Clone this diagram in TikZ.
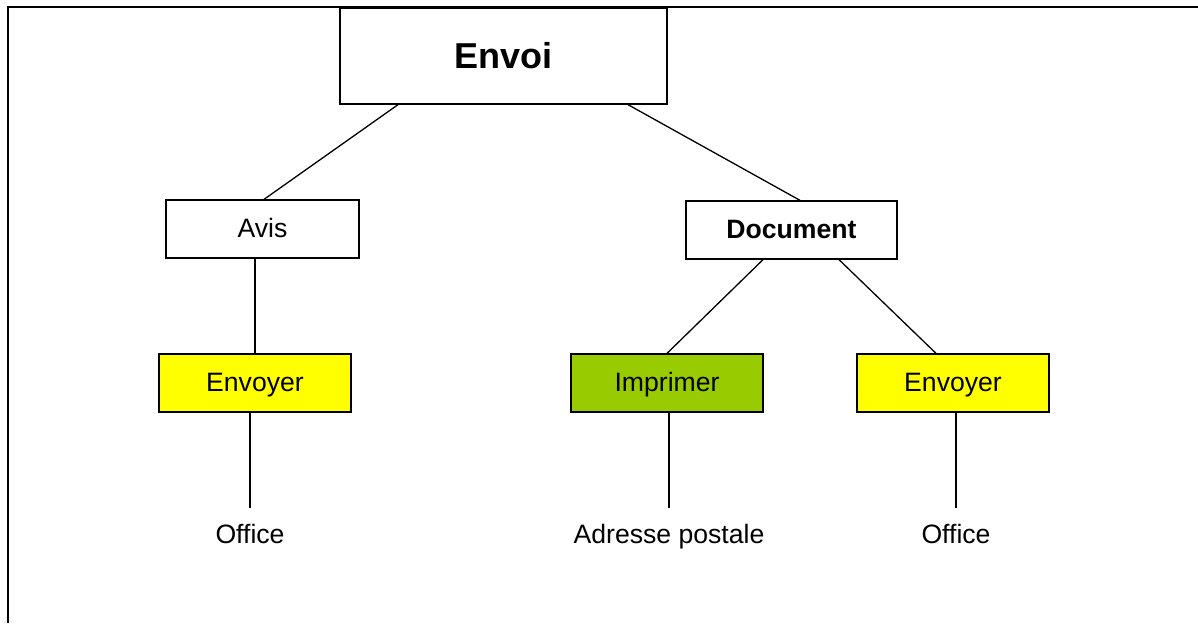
\documentclass[tikz,border=0pt]{standalone}
\usepackage{fontspec}
\setmainfont{Liberation Sans}
\usetikzlibrary{positioning}

\begin{document}
\begin{tikzpicture}[x=0.5pt,y=-0.5pt,
	box/.style={draw,line width=0.65pt,rectangle,inner sep=0pt,minimum height=29pt,text height=10.4pt,text depth=2pt,font=\fontsize{13.3}{16}\selectfont},
	leaf/.style={inner sep=0pt,minimum height=26pt,text height=11.1pt,text depth=1.3pt,font=\fontsize{13.3}{16}\selectfont}]
					\definecolor{lightyellow}{HTML}{FFFF00}
					\definecolor{lightgreen}{HTML}{99CC00}
					\useasboundingbox (0,0) rectangle (1198,623);
					\draw[line width=1.1pt] (8,623) -- (8,7) -- (1198,7);

					\node[box,minimum width=163.5pt,minimum height=48pt,text height=14.8pt,text depth=2pt,font=\fontsize{18}{22}\selectfont\bfseries] (envoi) at (503.5,56) {Envoi};
					\node[box,minimum width=96.5pt] (avis) at (262.5,229) {Avis};
					\node[box,minimum width=105.5pt,font=\fontsize{13.3}{16}\selectfont\bfseries] (document) at (791.5,230) {Document};
					\node[box,minimum width=96pt,fill=lightyellow] (envoyerA) at (255,383) {Envoyer};
					\node[box,minimum width=96pt,fill=lightgreen] (imprimer) at (667,383) {Imprimer};
					\node[box,minimum width=96pt,fill=lightyellow] (envoyerB) at (953,383) {Envoyer};
					\node[leaf] (officeA) at (250,534) {Office};
					\node[leaf] (adresse) at (669,534) {Adresse postale};
					\node[leaf] (officeB) at (956,534) {Office};

					\draw[line width=0.65pt] ([xshift=-52.75pt]envoi.south) -- ([xshift=0.75pt]avis.north);
					\draw[line width=0.65pt] ([xshift=62.25pt]envoi.south) -- ([xshift=4.25pt]document.north);
					\draw[line width=0.65pt] (avis.south -| envoyerA.north) -- (envoyerA.north);
					\draw[line width=0.65pt] ([xshift=-14.25pt]document.south) -- (imprimer.north);
					\draw[line width=0.65pt] ([xshift=23.75pt]document.south) -- ([xshift=-8.5pt]envoyerB.north);
					\draw[line width=0.65pt] (envoyerA.south -| officeA.north) -- (officeA.north);
					\draw[line width=0.65pt] (imprimer.south -| adresse.north) -- (adresse.north);
					\draw[line width=0.65pt] (envoyerB.south -| officeB.north) -- (officeB.north);
				\end{tikzpicture}
\end{document}
